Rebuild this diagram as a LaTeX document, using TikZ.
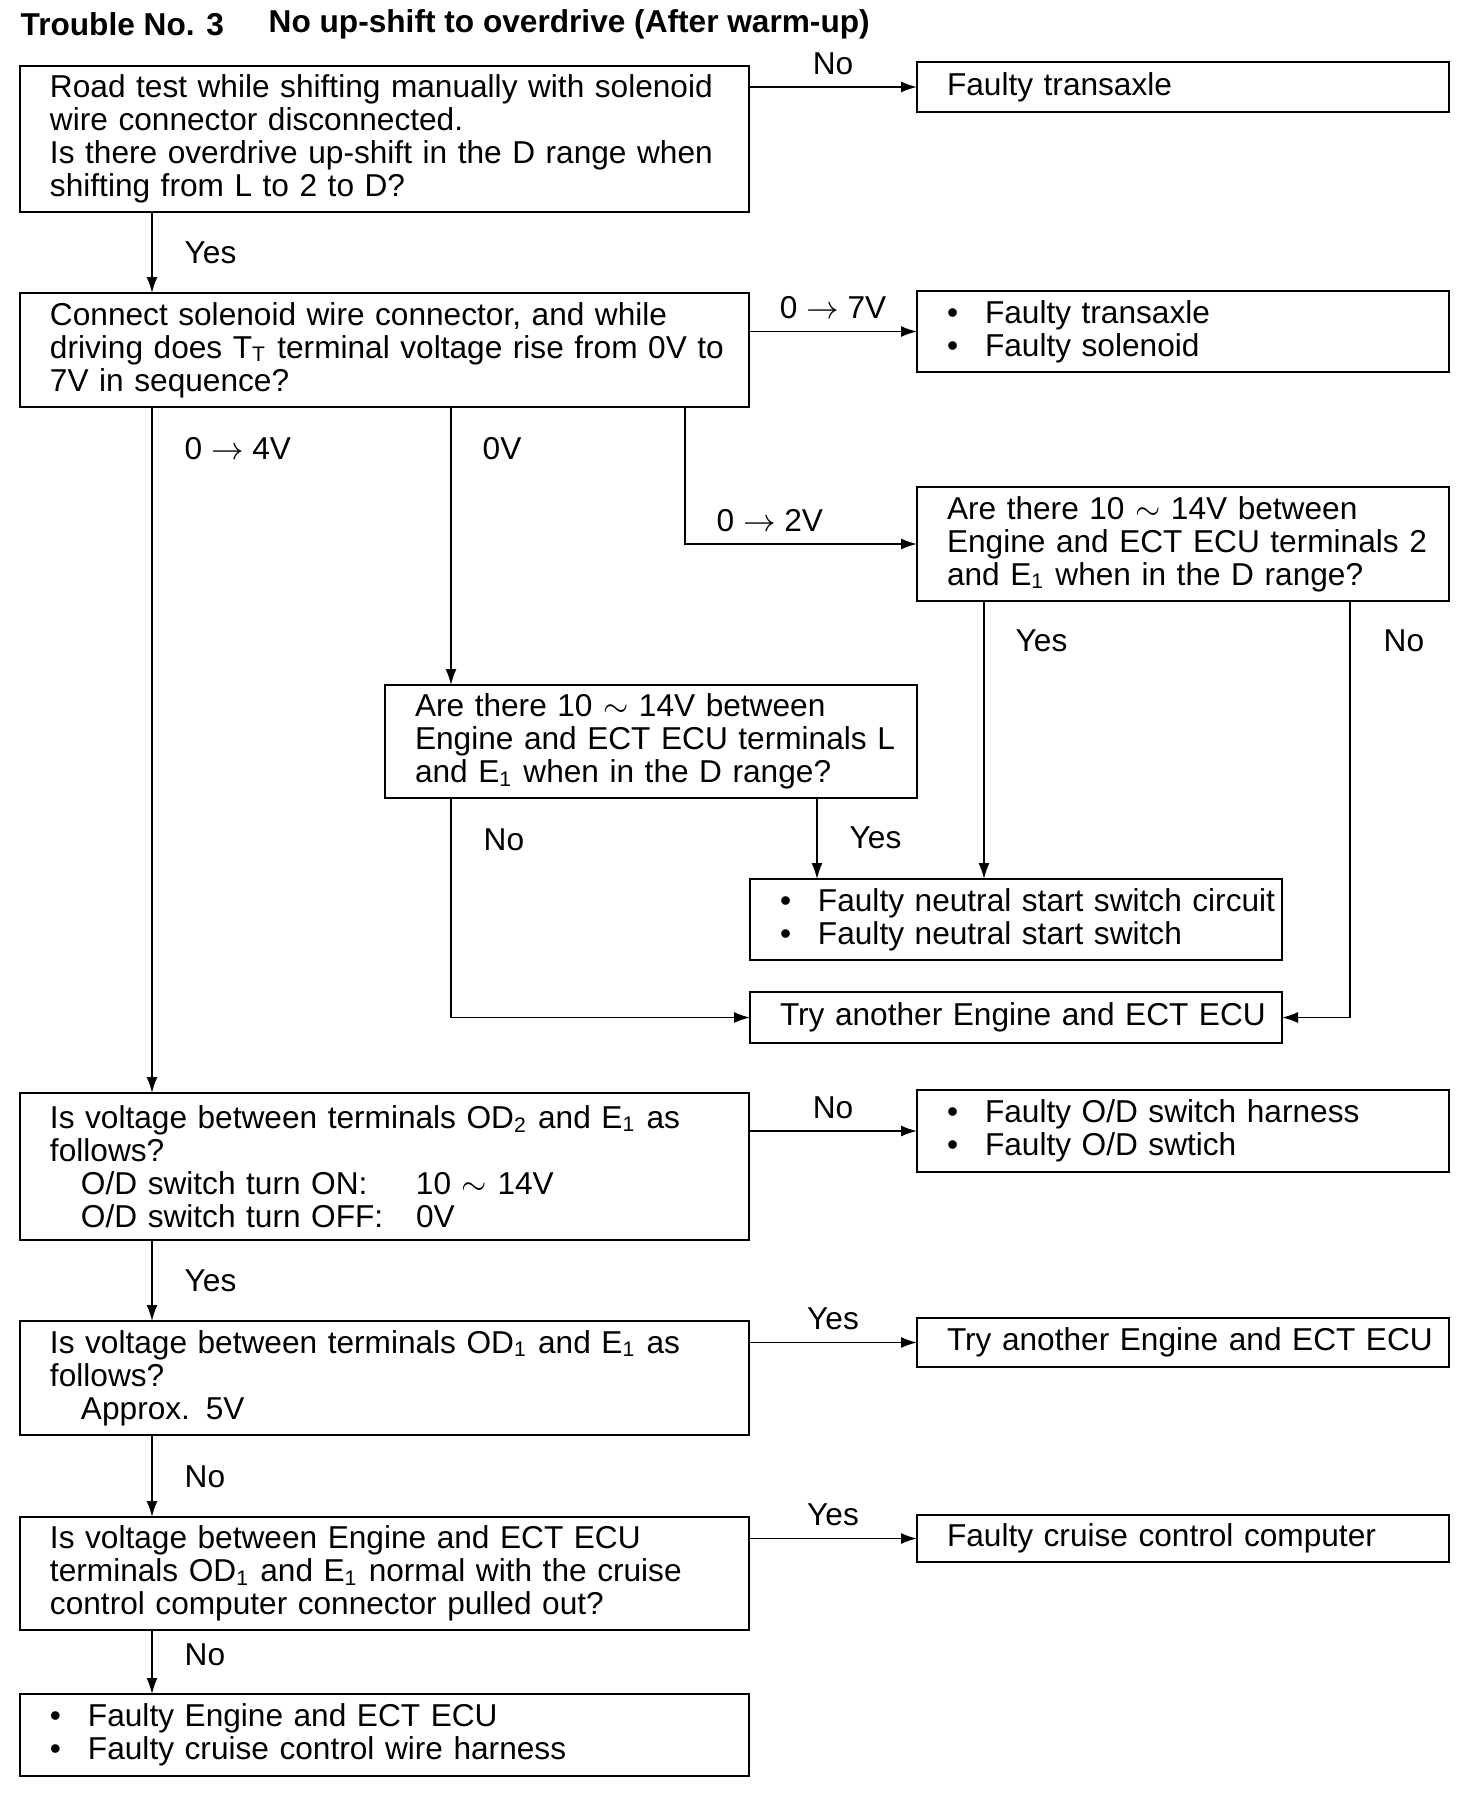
\documentclass[tikz,border=0pt]{standalone}
\usepackage{fontspec}
\setmainfont{Liberation Sans}
\usetikzlibrary{positioning,arrows.meta,calc}
\newcommand{\bul}{\makebox[0.38cm][l]{\textbullet}}
\newcommand{\noWrap}{\rightskip=0pt plus 1fil minus 2cm\relax\hyphenpenalty=10000\relax}
\newcommand{\ind}{\hspace*{0.31cm}}

\begin{document}
\begin{tikzpicture}[
  every node/.style={font=\fontsize{9}{9.4}\selectfont},
  bx/.style={draw, line width=0.8pt, anchor=north west, outer sep=0pt,
             inner xsep=0.30cm, inner ysep=0.05cm, align=left,
             execute at begin node=\noWrap},
  QB/.style={bx, text width=6.69cm},
  RB/.style={bx, text width=4.72cm},
  lbl/.style={anchor=west, inner sep=0pt},
  ar/.style={-{Latex[length=1.6mm,width=1.1mm]}, line width=0.45pt},
]
  \useasboundingbox (0,0) rectangle (14.72,-18.04);

  % Title
  \node[anchor=west, inner sep=0pt, font=\fontsize{9}{9.4}\selectfont\bfseries] (t1) at (0.20,-0.24) {Trouble No. 3};
  \node[anchor=west, inner sep=0pt, font=\fontsize{9}{9.4}\selectfont\bfseries] (t2) at (2.68,-0.24) {No up-shift to overdrive (After warm-up)};

  % Left column
  \node[QB, minimum height=1.46cm] (q1) at (0.20,-0.66)
    {Road test while shifting manually with solenoid\\wire connector disconnected.\\Is there overdrive up-shift in the D range when\\shifting from L to 2 to D?};
  \node[QB, minimum height=1.14cm] (q2) at (0.20,-2.93)
    {Connect solenoid wire connector, and while\\driving does T\textsubscript{T} terminal voltage rise from 0V to\\7V in sequence?};
  \node[QB, minimum height=1.47cm] (q5) at (0.20,-10.93)
    {Is voltage between terminals OD\textsubscript{2} and E\textsubscript{1} as\\follows?\\\ind\makebox[3.35cm][l]{O/D switch turn ON:}10 $\sim$ 14V\\\ind\makebox[3.35cm][l]{O/D switch turn OFF:}0V};
  \node[QB, minimum height=1.14cm] (q6) at (0.20,-13.21)
    {Is voltage between terminals OD\textsubscript{1} and E\textsubscript{1} as\\follows?\\\ind Approx. 5V};
  \node[QB, minimum height=1.13cm] (q7) at (0.20,-15.17)
    {Is voltage between Engine and ECT ECU\\terminals OD\textsubscript{1} and E\textsubscript{1} normal with the cruise\\control computer connector pulled out?};
  \node[QB, minimum height=0.82cm] (r8) at (0.20,-16.94)
    {\bul Faulty Engine and ECT ECU\\\bul Faulty cruise control wire harness};

  % Right column
  \node[RB, minimum height=0.50cm] (r1) at (9.17,-0.62) {Faulty transaxle};
  \node[RB, minimum height=0.81cm] (r2) at (9.17,-2.91)
    {\bul Faulty transaxle\\\bul Faulty solenoid};
  \node[RB, minimum height=1.14cm] (q3) at (9.17,-4.87)
    {Are there 10 $\sim$ 14V between\\Engine and ECT ECU terminals 2\\and E\textsubscript{1} when in the D range?};
  \node[RB, minimum height=0.82cm] (r5) at (9.17,-10.90)
    {\bul Faulty O/D switch harness\\\bul Faulty O/D swtich};
  \node[RB, minimum height=0.49cm] (r6) at (9.17,-13.18) {Try another Engine and ECT ECU};
  \node[RB, minimum height=0.47cm] (r7) at (9.17,-15.15) {Faulty cruise control computer};

  % Middle
  \node[RB, minimum height=1.13cm] (q4) at (3.85,-6.85)
    {Are there 10 $\sim$ 14V between\\Engine and ECT ECU terminals L\\and E\textsubscript{1} when in the D range?};
  \node[RB, minimum height=0.81cm] (nsw) at (7.50,-8.79)
    {\bul Faulty neutral start switch circuit\\\bul Faulty neutral start switch};
  \node[RB, minimum height=0.51cm] (try1) at (7.50,-9.92) {Try another Engine and ECT ECU};

  % Connectors
  \coordinate (sp) at (1.52,0);
  \coordinate (v0) at (4.51,0);
  \coordinate (v2) at (6.85,0);
  \coordinate (vL) at (8.17,0);
  \coordinate (vy) at (9.84,0);
  \coordinate (vn) at (13.50,0);

  \draw[ar] (r1.west -| q1.east) -- (r1.west) node[midway,above] (lN1) {No};
  \draw[ar] (q1.south -| sp) -- (q2.north -| sp);
  \draw[ar] (r2.west -| q2.east) -- (r2.west) node[midway,above] (l07) {0 $\rightarrow$ 7V};
  \draw[ar] (q2.south -| sp) -- (q5.north -| sp);
  \draw[ar] (q2.south -| v0) -- (q4.north -| v0);
  \draw[ar] (q2.south -| v2) |- (q3.west);
  \draw[ar] (q3.south -| vy) -- (nsw.north -| vy);
  \draw[ar] (q3.south -| vn) |- (try1.east);
  \draw[ar] (q4.south -| vL) -- (nsw.north -| vL);
  \draw[ar] (q4.south -| v0) |- (try1.west);
  \draw[ar] (r5.west -| q5.east) -- (r5.west) node[midway,above] (lN5) {No};
  \draw[ar] (q5.south -| sp) -- (q6.north -| sp);
  \draw[ar] (r6.west -| q6.east) -- (r6.west) node[midway,above] (lY6) {Yes};
  \draw[ar] (q6.south -| sp) -- (q7.north -| sp);
  \draw[ar] (r7.west -| q7.east) -- (r7.west) node[midway,above] (lY7) {Yes};
  \draw[ar] (q7.south -| sp) -- (r8.north -| sp);

  % Branch labels
  \node[lbl] (lY1) at (1.84,-2.53) {Yes};
  \node[lbl] (l04) at (1.84,-4.49) {0 $\rightarrow$ 4V};
  \node[lbl] (l0V) at (4.82,-4.49) {0V};
  \node[lbl] (l02) at (7.16,-5.21) {0 $\rightarrow$ 2V};
  \node[lbl] (lY3) at (10.15,-6.41) {Yes};
  \node[lbl] (lN3) at (13.83,-6.41) {No};
  \node[lbl] (lN4) at (4.83,-8.40) {No};
  \node[lbl] (lY4) at (8.49,-8.38) {Yes};
  \node[lbl] (lY5) at (1.84,-12.81) {Yes};
  \node[lbl] (lN6) at (1.84,-14.77) {No};
  \node[lbl] (lN7) at (1.84,-16.55) {No};
\end{tikzpicture}
\end{document}
